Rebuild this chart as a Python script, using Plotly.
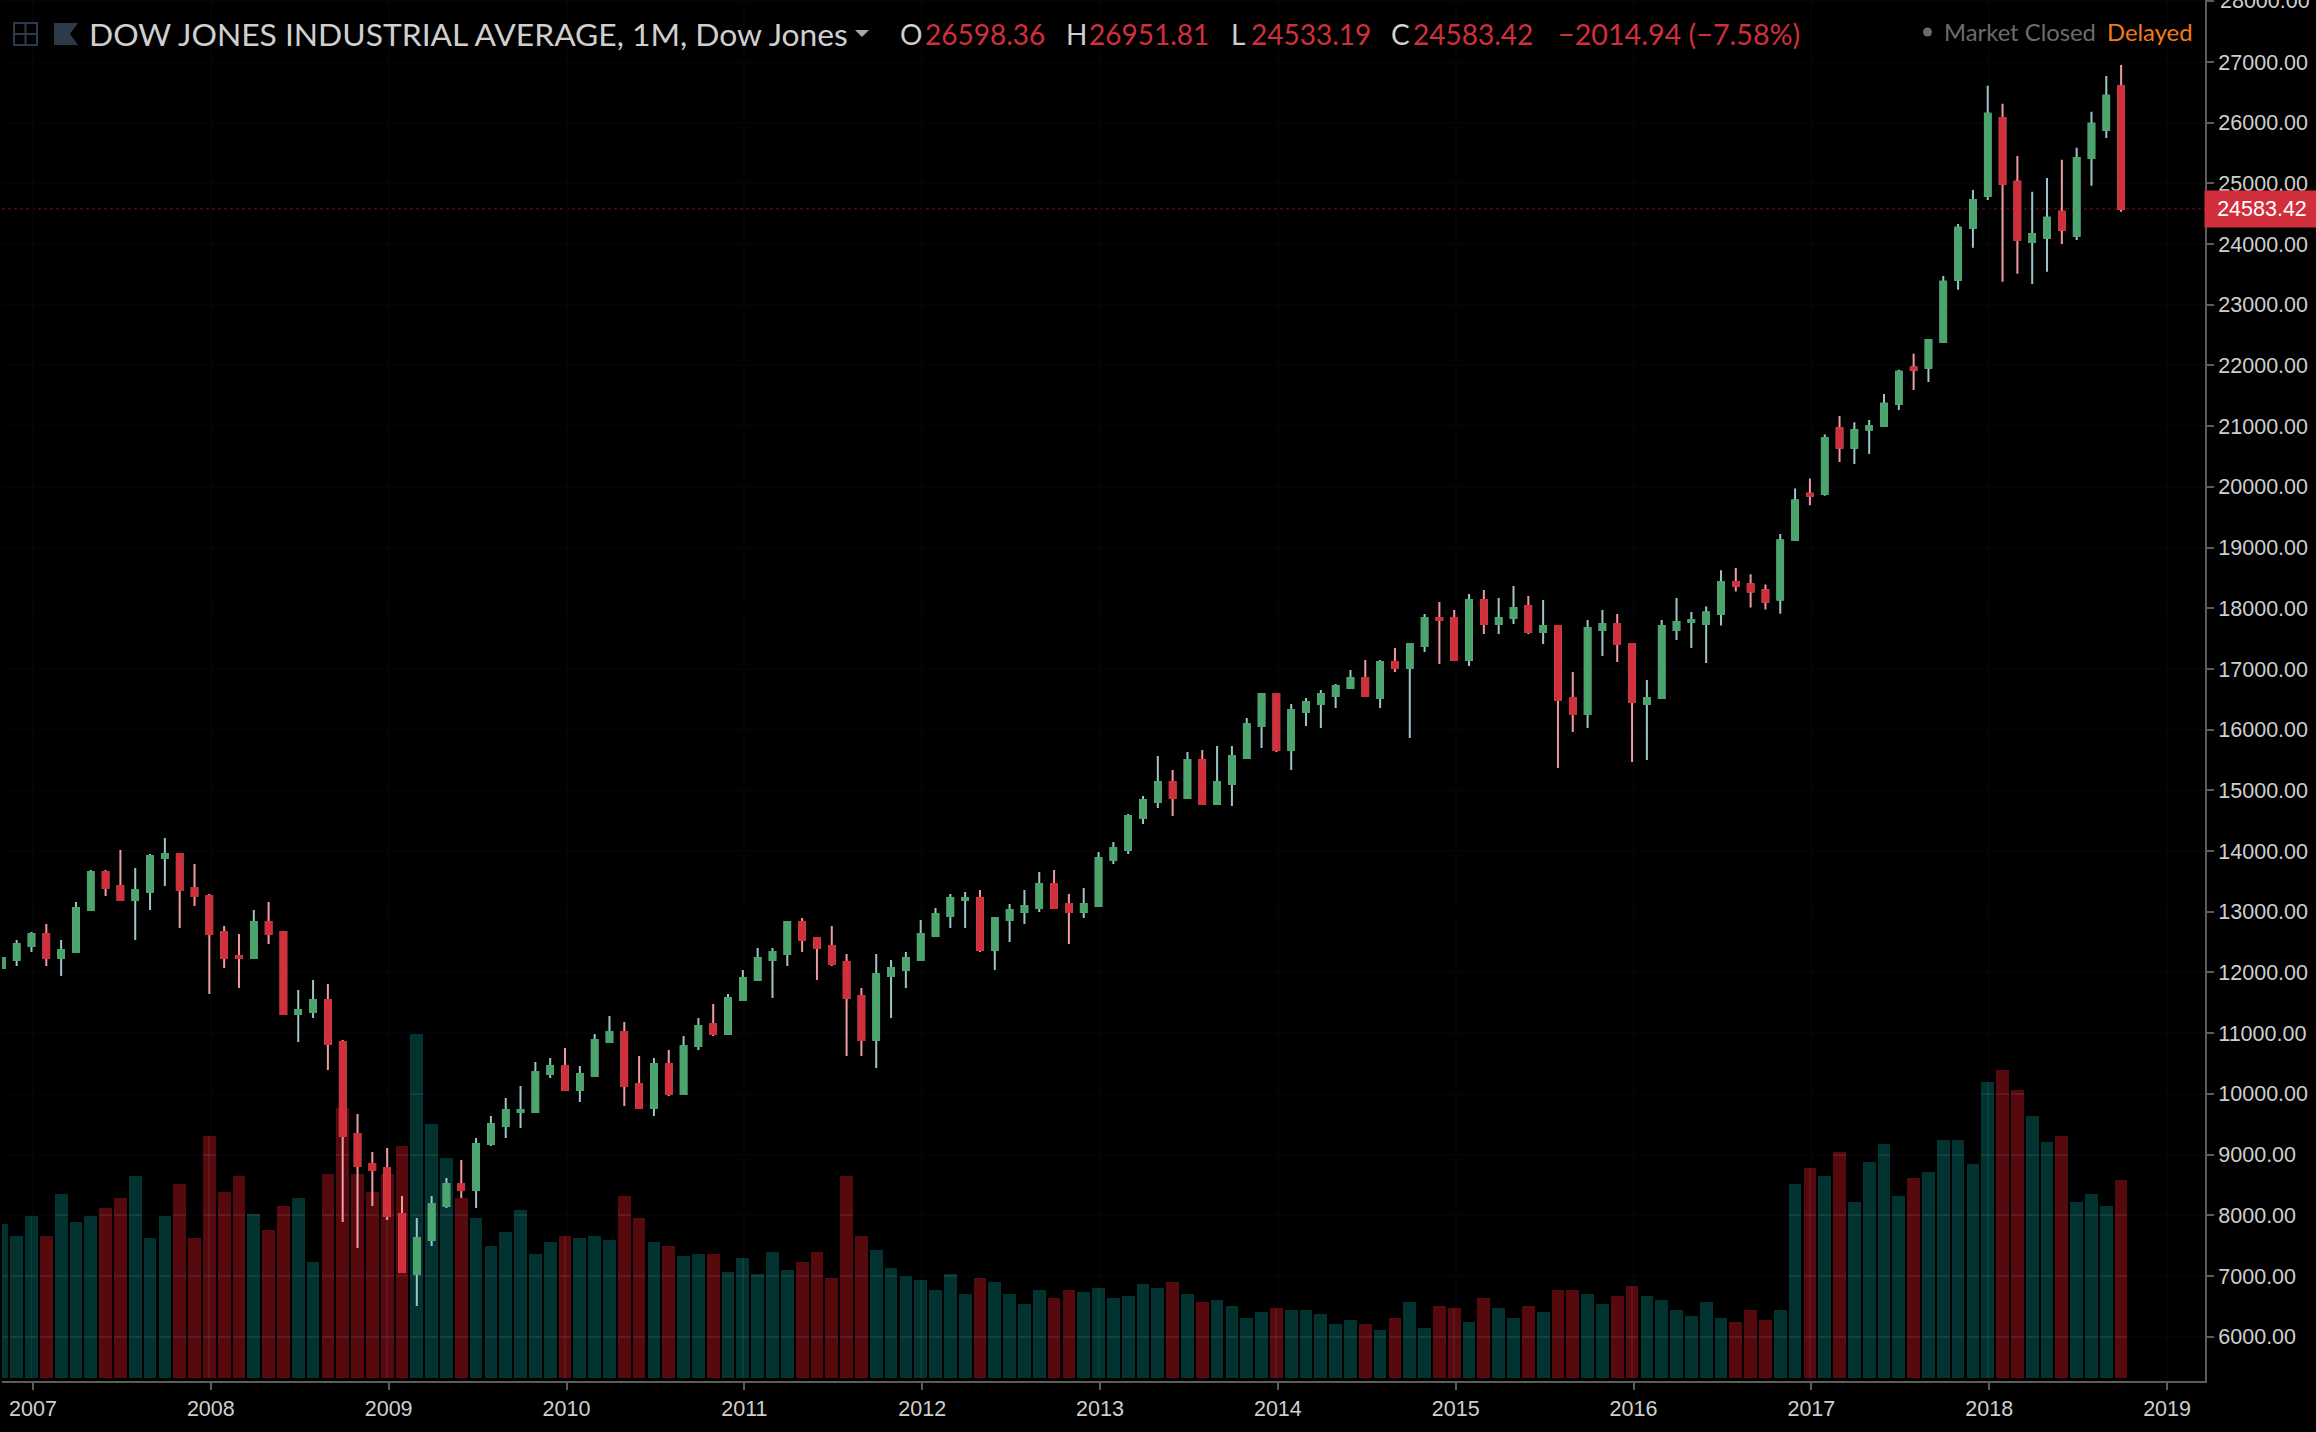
import plotly.graph_objects as go

FIRST_YEAR = 2007
year_labels = [str(y) for y in range(2007, 2020)]

opens = [12075, 12206,
 12437,12635,12239,12338,13030,13656,13425,13195,13326,13886,13952,13392,
 13260,12668,12272,12239,12832,12668,11317,11350,11548,10856,9340,8846,
 8780,8022,7034,7594,8154,8516,8417,9175,9471,9702,9702,10329,
 10461,10064,10296,10856,11021,10163,9768,10493,9999,10790,11152,10988,
 11548,11877,12206,12305,12832,12569,12437,12173,11613,10889,11943,12042,
 12206,12602,12931,13195,13228,12371,12865,12997,13063,13458,13129,12997,
 13096,13853,14018,14546,14810,15139,14876,15502,14777,15106,15535,16062,
 16589,15666,16292,16424,16556,16687,16852,16523,17116,17017,17379,17840,
 17840,17149,18137,17742,17840,18038,17610,17709,16523,16259,17643,17742,
 17412,16424,16523,17643,17775,17740,17906,18435,18396,18297,18144,19128,
 19886,19886,20964,20643,20945,21002,21368,21967,21961,22389,23411,24268,
 24792,26078,25025,24035,24104,24533,24136,25420,25882,26598.36]

closes = [12239, 12470,
 12635,12239,12371,13063,13656,13392,13195,13359,13919,13952,13359,13260,
 12635,12239,12239,12832,12635,11317,11383,11548,10823,9307,8813,8747,
 7989,7067,7627,8187,8516,8417,9175,9504,9735,9735,10361,10461,
 10064,10329,10889,11021,10131,9768,10493,9999,10790,11119,10988,11581,
 11910,12239,12338,12832,12536,12404,12141,11581,10889,11976,12075,12239,
 12635,12964,13228,13228,12371,12898,13030,13096,13458,13063,12997,13129,
 13886,14051,14578,14843,15139,14876,15502,14777,15139,15567,16095,16589,
 15666,16325,16457,16589,16720,16852,16556,17116,17017,17412,17840,17807,
 17149,18137,17742,17840,18005,17610,17709,16490,16259,17676,17742,17412,
 16457,16523,17709,17775,17807,17930,18435,18372,18276,18107,19115,19777,
 19855,20806,20643,20933,21002,21368,21897,21929,22421,23379,24268,24728,
 26147,24993,24067,24167,24432,24237,25420,25983,26443,24583.42]

highs = [12239, 12536,
 12668,12799,12536,13162,13689,13689,14018,13722,13952,14216,13952,13788,
 13293,12766,12635,13030,13162,12668,11712,11877,11811,10889,9669,9043,
 9109,8319,7956,8319,8615,8912,9274,9636,9933,10130,10526,10592,
 10757,10460,10988,11284,11185,10624,10592,10724,10955,11251,11482,11646,
 12042,12404,12404,12832,12898,12569,12766,12305,11745,12305,12206,12338,
 12865,13063,13293,13326,13359,12898,13129,13359,13656,13689,13293,13392,
 13985,14150,14611,14909,15567,15337,15633,15666,15732,15732,16193,16589,
 16589,16424,16523,16654,16753,16984,17149,17149,17346,17412,17906,18104,
 17972,18236,18301,18170,18367,18203,18137,17709,16951,17807,17972,17906,
 17412,16819,17807,18170,17939,18030,18625,18663,18560,18392,19222,19973,
 20138,20861,21166,21065,21103,21532,21929,22194,22421,23474,24331,24892,
 26607,26311,25453,24861,25088,25390,25586,26179,26771,26951.81]

lows = [12075, 12108,
 12338,12108,11943,12338,13030,13260,13195,12536,13030,13425,12733,13096,
 11646,12075,11745,12239,12470,11317,10856,11251,10395,7890,7462,8154,
 7923,7067,6507,7495,8121,8286,8121,9142,9274,9439,9702,10263,
 10064,9867,10296,10856,9801,9768,9636,9966,9999,10724,10955,10988,
 11548,11877,11581,12108,12338,11877,12108,10625,10625,10428,11251,11745,
 12206,12602,12733,12733,12338,12042,12503,12799,12997,13063,12470,12898,
 13096,13787,13952,14448,14711,14579,14876,14777,14777,14744,15535,15699,
 15633,15337,16062,16029,16358,16687,16556,16358,16951,15864,17280,17083,
 17149,17050,17577,17577,17742,17577,17412,15370,15963,16029,17214,17116,
 15469,15502,16523,17478,17346,17100,17717,18276,18013,17980,17910,19128,
 19697,19855,20410,20378,20540,21002,21267,21595,21727,22389,23247,23940,
 24728,23379,23512,23341,23543,24003,24067,24962,25748,24533.19]

volumes = [462, 426,
 486,426,552,468,486,510,540,606,420,486,582,420,
 726,558,606,492,444,516,540,348,612,810,612,558,
 612,696,1032,762,660,540,480,396,438,504,372,408,
 426,420,426,414,546,480,408,396,366,372,372,318,
 360,312,378,324,348,378,300,606,426,384,330,306,
 294,264,312,252,300,288,252,222,264,240,264,258,
 270,240,246,282,270,288,252,228,234,216,180,198,
 210,204,204,192,162,174,162,144,180,228,150,216,
 210,168,240,210,180,216,198,264,264,252,222,246,
 276,246,234,204,186,228,180,168,204,174,204,582,
 630,606,678,528,648,702,546,600,618,714,714,642,
 888,924,864,786,708,726,528,552,516,594]

last_price = 24583.42
header_title = "DOW JONES INDUSTRIAL AVERAGE, 1M, Dow Jones"

GREEN, RED = "#4aa56d", "#d12f3b"
GREEN_WICK, RED_WICK = "#9fc4c8", "#ef9aa2"
VOL_GREEN, VOL_RED = "#023330", "#560a0e"
AXIS, TEXT, BG = "#5c5c5c", "#cfcfcf", "#000000"
GRID = "#040408"

W, H = 2316, 1432
L, R, B = 2, 111, 51
PW, PH = W - L - R, H - B
def px(x): return (x - L) / PW
def py(y): return 1 - y / PH

x = list(range(-2, 142))
price_range = [5270, 28021]
vol_range = [-9, 4134]
def price_to_vol(p):
    t = (p - price_range[0]) / (price_range[1] - price_range[0])
    return vol_range[0] + t * (vol_range[1] - vol_range[0])

fig = go.Figure()
fig.add_bar(x=x, y=volumes, yaxis="y", width=0.86,
            marker=dict(color=[VOL_GREEN if c >= o else VOL_RED for o, c in zip(opens, closes)], line_width=0))

# the chart's faint grid shows through the translucent volume bars
for level in range(6000, 11000, 1000):
    v = price_to_vol(level)
    xs = [i for i, q in zip(x, volumes) if q > v + 3]
    fig.add_bar(x=xs, y=[6] * len(xs), base=v - 3, width=0.86, yaxis="y",
                marker=dict(color="rgba(255,255,255,0.07)", line_width=0))
yr_idx = list(range(0, 144, 12))
fig.add_bar(x=yr_idx, y=[volumes[i + 2] if i <= 141 else 0 for i in yr_idx], width=0.12, yaxis="y",
            marker=dict(color="rgba(255,255,255,0.05)", line_width=0))

body_hi = [max(o, c) for o, c in zip(opens, closes)]
body_lo = [min(o, c) for o, c in zip(opens, closes)]
fig.add_candlestick(x=x, open=opens, high=highs, low=lows, close=closes, yaxis="y2", whiskerwidth=0,
                    increasing=dict(line=dict(color=GREEN_WICK, width=2), fillcolor=GREEN),
                    decreasing=dict(line=dict(color=RED_WICK, width=2), fillcolor=RED))
fig.add_candlestick(x=x, open=opens, high=body_hi, low=body_lo, close=closes, yaxis="y2", whiskerwidth=0,
                    increasing=dict(line=dict(color=GREEN, width=2), fillcolor=GREEN),
                    decreasing=dict(line=dict(color=RED, width=2), fillcolor=RED))

def label(px_x, px_y, text, size, color, anchor="left"):
    fig.add_annotation(xref="paper", yref="paper", x=px(px_x), y=py(px_y), text=text, showarrow=False,
                       xanchor=anchor, yanchor="middle", borderpad=0,
                       font=dict(family="Lato", size=size, color=color))

label(88, 34, header_title, 31.8, TEXT)
for lx, letter, vx, val in [(899, "O", 924, "26598.36"), (1065, "H", 1088, "26951.81"),
                            (1230, "L", 1250, "24533.19"), (1390, "C", 1412, "24583.42")]:
    label(lx, 34, letter, 28, TEXT)
    label(vx, 34, val, 28, RED)
label(1557, 34, "\u22122014.94 (\u22127.58%)", 28.7, RED)
label(1943, 32, "Market Closed", 23.8, "#6c6c6c")
label(2106, 32, "Delayed", 23.8, "#f27b1c")

tick_font = dict(family="Liberation Sans", size=21.5, color=TEXT)
# plotly drops the label of a tick this close to the top edge, so it is added by hand
fig.add_annotation(xref="paper", yref="y2", x=px(2219), y=28000, text="28000.00", showarrow=False,
                   xanchor="left", yanchor="middle", borderpad=0, font=tick_font)
fig.add_annotation(xref="paper", yref="y2", x=px(2204), y=last_price, text="24583.42", showarrow=False,
                   xanchor="left", yanchor="middle", width=112, height=34, bgcolor=RED, align="center",
                   font=dict(family="Liberation Sans", size=21.5, color="#ffffff"))

def pshape(**kw):
    fig.add_shape(xref="paper", yref="paper", **kw)
fig.add_shape(type="line", xref="paper", yref="y2", x0=0, x1=1, y0=last_price, y1=last_price,
              line=dict(color="#500a0f", width=1.5, dash="dot"), layer="below")
ICON = "#2c3a4a"
pshape(type="rect", x0=px(14), x1=px(37), y0=py(23), y1=py(45), line=dict(color=ICON, width=2))
pshape(type="line", x0=px(14), x1=px(37), y0=py(34), y1=py(34), line=dict(color=ICON, width=2))
pshape(type="line", x0=px(25.5), x1=px(25.5), y0=py(23), y1=py(45), line=dict(color=ICON, width=2))
flag = [(54, 23), (78, 23), (70, 34), (78, 45), (54, 45)]
pshape(type="path", path="M" + " L".join(f"{px(a)},{py(b)}" for a, b in flag) + " Z",
       fillcolor=ICON, line_width=0)
caret = [(855, 30), (869, 30), (862, 37)]
pshape(type="path", path="M" + " L".join(f"{px(a)},{py(b)}" for a, b in caret) + " Z",
       fillcolor="#a8a8a8", line_width=0)
pshape(type="circle", x0=px(1923), x1=px(1932), y0=py(27.5), y1=py(36.5), fillcolor="#6c6c6c", line_width=0)

fig.update_layout(
    width=W, height=H, margin=dict(l=L, r=R, t=0, b=B, pad=0),
    paper_bgcolor=BG, plot_bgcolor=BG, showlegend=False, barmode="overlay", boxgap=0.46,
    bargap=0, hovermode=False,
    xaxis=dict(range=[-1.99, 146.66], rangeslider=dict(visible=False), tickmode="array",
               tickvals=[i * 12 + 0.1 for i in range(len(year_labels))], ticktext=year_labels,
               ticks="outside", ticklen=7, tickwidth=2, tickcolor=AXIS, showline=True, linecolor=AXIS,
               linewidth=2, showgrid=True, gridcolor=GRID, gridwidth=2, zeroline=False,
               tickfont=tick_font),
    yaxis=dict(range=vol_range, visible=False, showgrid=False, zeroline=False),
    yaxis2=dict(range=price_range, overlaying="y", side="right", anchor="x", tickmode="array",
                tickvals=list(range(6000, 29000, 1000)), tickformat=".2f", ticks="outside", ticklen=7,
                tickwidth=2, tickcolor=AXIS, showline=True, linecolor=AXIS, linewidth=2, showgrid=True,
                gridcolor=GRID, gridwidth=2, zeroline=False, tickfont=tick_font),
)

fig.write_html("out.html", config=dict(displayModeBar=False),
               post_script="document.body.style.margin='0';document.body.style.overflow='hidden';")
